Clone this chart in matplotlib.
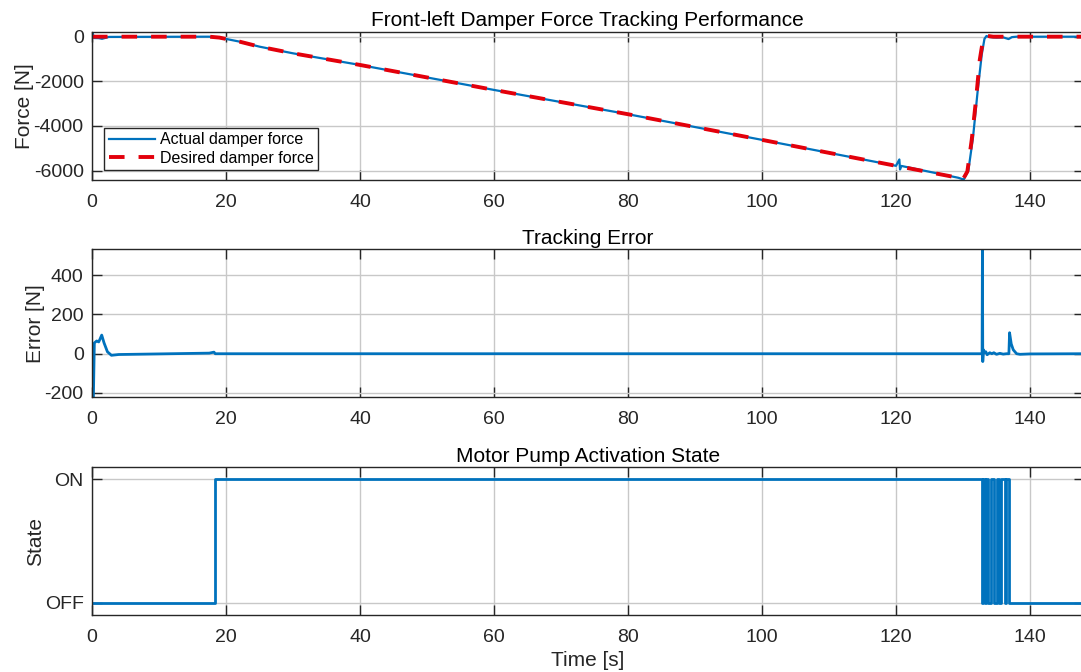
import numpy as np
import matplotlib
matplotlib.use("Agg")
import matplotlib.pyplot as plt

plt.rcParams['font.family'] = ['Liberation Sans', 'DejaVu Sans']
plt.rcParams['axes.unicode_minus'] = False

# Damper force (desired vs actual), N
des_t = [0, 17.5, 19, 20, 22, 25, 30, 40, 60, 80, 100, 120, 129.3, 129.95,
         130.65, 131.3, 131.94, 132.5, 132.9, 133.04, 133.5, 134.5, 148]
des_f = [0, 0, -40, -100, -220, -447, -745, -1266, -2385, -3473, -4622, -5785,
         -6320, -6411, -6040, -4622, -2832, -1042, -297, 0, 40, 0, 0]

act_t = [0, 0.05, 0.3, 1.0, 1.5, 2.5, 17.5, 19, 20, 22, 25, 30, 40, 60, 80,
         100, 120, 120.5, 120.6, 120.8, 121.2, 129.3, 130.1, 130.8, 131.5,
         132.2, 132.8, 133.2, 133.5, 134.0, 135.0, 136.0, 136.8, 137.3, 138,
         148]
act_f = [0, 220, -60, -65, -95, -10, 0, -40, -100, -220, -447, -745, -1266,
         -2385, -3473, -4622, -5785, -5500, -5950, -5790, -5815, -6320, -6400,
         -6000, -4500, -2400, -800, -100, 30, -20, -40, -30, -107, -20, 0, 0]

# Tracking error, N
err_t = [0, 0.1, 0.2, 0.35, 0.7, 1.0, 1.2, 1.45, 1.8, 2.3, 2.9, 4, 8, 17.5,
         18.2, 18.4, 20, 132.85, 132.9, 132.95, 133.05, 133.2, 133.4, 133.6,
         134.0, 134.3, 134.6, 135.0, 135.5, 136.0, 136.5, 136.85, 136.95,
         137.2, 137.5, 138.0, 138.5, 140, 148]
err_v = [0, -235, -235, 55, 65, 60, 75, 95, 55, 10, -8, -4, -2, 3, 8, 0, 0, 0,
         532, -40, 20, 5, 10, -5, 5, 0, 5, -3, 2, -2, 0, 0, 107, 50, 20, 0,
         -3, -1, 0]

# Motor pump state (0 = OFF, 1 = ON)
state_t = [0, 18.3, 132.9, 133.05, 133.25, 133.45, 133.75, 134.2, 134.6,
           135.1, 135.3, 135.6, 135.8, 136.3, 136.4, 136.8, 148]
state_v = [0, 1, 0, 1, 0, 1, 0, 1, 0, 1, 0, 1, 1, 0, 1, 0, 0]

blue = '#0072BD'
red = '#E3000B'
dark = '#262626'

fig = plt.figure(figsize=(10.81, 6.72), dpi=100)
W, H = 1081, 672
left, right = 92 / W, 1083.6 / W
rows = [(32, 180), (249.3, 397.3), (467.3, 614.7)]
axes = []
for top, bot in rows:
    ax = fig.add_axes([left, 1 - bot / H, right - left, (bot - top) / H])
    axes.append(ax)

for ax in axes:
    ax.set_xlim(0, 148)
    ax.set_xticks(np.arange(0, 141, 20))
    ax.grid(True, color='#c8c8c8', linewidth=1.0)
    ax.set_axisbelow(True)
    ax.tick_params(direction='in', top=True, right=True, length=7, width=1.0,
                   color=dark, labelcolor=dark, labelsize=14)
    ax.tick_params(axis='x', pad=10)
    ax.tick_params(axis='y', pad=6)
    for s in ax.spines.values():
        s.set_color(dark)
        s.set_linewidth(1.0)

ax1, ax2, ax3 = axes

ax1.plot(act_t, act_f, color=blue, lw=1.6, label='Actual damper force')
ax1.plot(des_t, des_f, color=red, lw=2.8, dashes=(4.0, 3.6),
         label='Desired damper force')
ax1.set_ylim(-6420, 210)
ax1.set_yticks([-6000, -4000, -2000, 0])
ax1.set_ylabel('Force [N]', fontsize=15, color=dark, labelpad=0)
ax1.set_title('Front-left Damper Force Tracking Performance', fontsize=15,
              color='black', pad=4)
leg = ax1.legend(loc='lower left', bbox_to_anchor=(0.012, 0.065),
                 fontsize=11.5, frameon=True, fancybox=False, framealpha=1,
                 handlelength=2.9, borderpad=0.3, labelspacing=0.2,
                 handletextpad=0.3, borderaxespad=0)
leg.get_frame().set_edgecolor(dark)
leg.get_frame().set_linewidth(1.0)

ax2.plot(err_t, err_v, color=blue, lw=2.0)
ax2.set_ylim(-222, 532)
ax2.set_yticks([-200, 0, 200, 400])
ax2.set_ylabel('Error [N]', fontsize=15, color=dark, labelpad=0)
ax2.set_title('Tracking Error', fontsize=15, color='black', pad=4)

ax3.plot(state_t, state_v, color=blue, lw=2.0, drawstyle='steps-post')
ax3.set_ylim(-0.097, 1.097)
ax3.set_yticks([0, 1])
ax3.set_yticklabels(['OFF', 'ON'])
ax3.set_ylabel('State', fontsize=15, color=dark, labelpad=0)
ax3.set_title('Motor Pump Activation State', fontsize=15, color='black', pad=4)
ax3.set_xlabel('Time [s]', fontsize=15, color=dark, labelpad=4)

fig.savefig('out.png', dpi=100)
